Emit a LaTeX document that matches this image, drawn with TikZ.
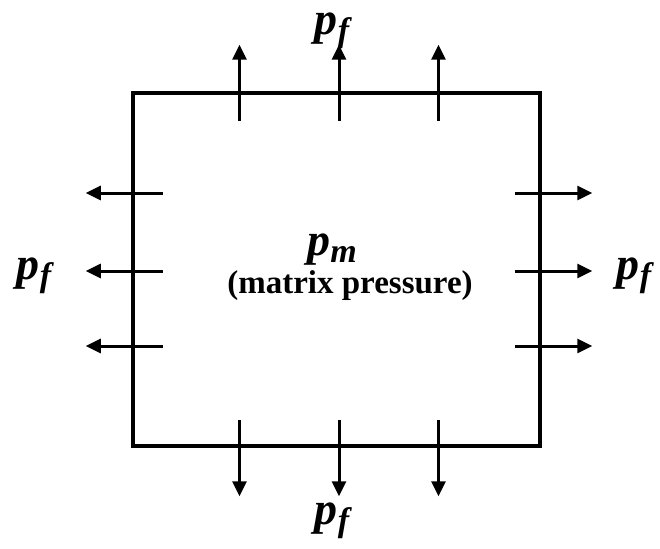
\documentclass[tikz,border=0pt]{standalone}
\usepackage{fontspec}
\setmainfont{Liberation Serif}
\usetikzlibrary{positioning, calc, arrows.meta}

% pressure symbol with subscript
\newcommand{\pres}[1]{{\fontsize{46}{48}\selectfont\bfseries\itshape p\raisebox{-7pt}{\fontsize{34}{36}\selectfont #1}}}

\begin{document}
\begin{tikzpicture}[
  x=1pt, y=-1pt,
  cellbox/.style={draw, line width=4.5pt, minimum width=407pt, minimum height=353pt, inner sep=0pt},
  force/.style={line width=3pt, -{Triangle[length=15pt, width=14pt]}},
  lbl/.style={inner sep=0pt}
]
  \useasboundingbox (0,0) rectangle (660,548);

  % Matrix cell
  \node[cellbox] (cell) at (336.5, 269.5) {};

  % Fracture pressure arrows, top and bottom
  \foreach \dx in {-97, 2.5, 102} {
    \draw[force] ($(cell.north)+(\dx,30)$) -- ++(0,-76);
    \draw[force] ($(cell.south)+(\dx,-28)$) -- ++(0,76);
  }
  % left and right
  \foreach \dy in {-76.5, 1.5, 76.5} {
    \draw[force] ($(cell.west)+(32,\dy)$) -- ++(-77,0);
    \draw[force] ($(cell.east)+(-27,\dy)$) -- ++(77,0);
  }

  % Labels
  \node[lbl] (pfN) at (332, 31) {\pres{f}};
  \node[lbl] (pfS) at (332, 521) {\pres{f}};
  \node[lbl] (pfW) at (34, 276) {\pres{f}};
  \node[lbl] (pfE) at (634, 276) {\pres{f}};
  \node[lbl] (pm) at (332, 250) {\pres{m}};
  \node[lbl, font=\fontsize{33}{35}\selectfont\bfseries] (note) at (350, 286) {(matrix pressure)};
\end{tikzpicture}
\end{document}
